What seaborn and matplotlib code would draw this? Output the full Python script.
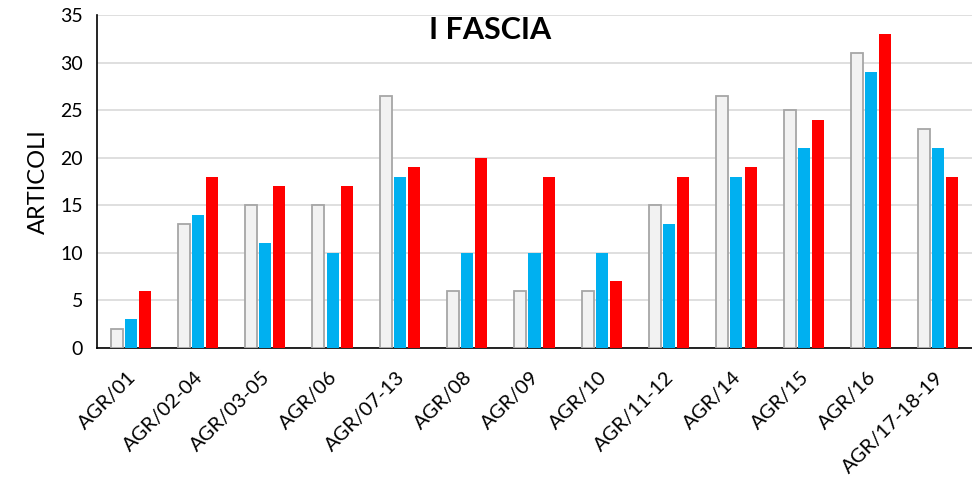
import matplotlib
matplotlib.use("Agg")
import matplotlib.pyplot as plt
import seaborn as sns
import pandas as pd
import numpy as np

categories = ["AGR/01", "AGR/02-04", "AGR/03-05", "AGR/06", "AGR/07-13", "AGR/08",
              "AGR/09", "AGR/10", "AGR/11-12", "AGR/14", "AGR/15", "AGR/16", "AGR/17-18-19"]
serie_grigia = [2, 13, 15, 15, 26.5, 6, 6, 6, 15, 26.5, 25, 31, 23]
serie_blu = [3, 14, 11, 10, 18, 10, 10, 10, 13, 18, 21, 29, 21]
serie_rossa = [6, 18, 17, 17, 19, 20, 18, 7, 18, 19, 24, 33, 18]
series_names = ["S1", "S2", "S3"]
colors = ["#F2F2F2", "#00B0F0", "#FF0000"]
title = "I FASCIA"
ylabel = "ARTICOLI"

df = pd.DataFrame({
    "cat": categories * 3,
    "serie": [series_names[0]] * 13 + [series_names[1]] * 13 + [series_names[2]] * 13,
    "val": serie_grigia + serie_blu + serie_rossa,
})

sns.set_style("white")
plt.rcParams["font.family"] = ["Lato", "DejaVu Sans"]
plt.rcParams["text.color"] = "black"
plt.rcParams["axes.labelcolor"] = "black"
plt.rcParams["xtick.color"] = "black"
plt.rcParams["ytick.color"] = "black"

fig = plt.figure(figsize=(9.72, 4.79), dpi=100)
ax = fig.add_axes([0.0998, 0.2735, 0.9002, 0.6952])

sns.barplot(data=df, x="cat", y="val", hue="serie", order=categories,
            hue_order=series_names, palette=colors, saturation=1,
            width=0.63, gap=0.15, legend=False, ax=ax, zorder=3)

for p in ax.patches:
    fc = p.get_facecolor()
    if fc[0] > 0.9 and fc[1] > 0.9:
        p.set_edgecolor("#A6A6A6")
        p.set_linewidth(1.3)
    else:
        p.set_linewidth(0)

ax.set_ylim(0, 35)
ax.set_xlim(-0.5, 12.5)
ax.set_yticks(range(0, 36, 5))
ax.yaxis.grid(True, color="#D9D9D9", lw=1.2, zorder=0)
ax.set_axisbelow(True)

for s in ["top", "right"]:
    ax.spines[s].set_visible(False)
for s in ["left", "bottom"]:
    ax.spines[s].set_color("black")
    ax.spines[s].set_linewidth(1.2)

ax.set_xticks(np.arange(len(categories)))
ax.set_xticklabels(categories, rotation=45, ha="right", rotation_mode="anchor", fontsize=14.5)
ax.set_xticks(np.arange(len(categories)) - 0.5, minor=True)
ax.tick_params(axis="x", which="major", length=0, pad=15)
ax.tick_params(axis="x", which="minor", length=6, width=1.2, color="black", direction="out")
ax.tick_params(axis="y", length=6, width=1.2, color="black", direction="out", labelsize=14, pad=4)
for lbl in ax.get_xticklabels():
    lbl.set_transform(lbl.get_transform() + matplotlib.transforms.ScaledTranslation(-2.7/72, 0, fig.dpi_scale_trans))

ax.set_xlabel("")
ax.set_ylabel(ylabel, fontsize=17, labelpad=8)

fig.text(0.504, 0.937, title, ha="center", va="center", fontsize=22, fontweight="bold")

fig.savefig("out.png", dpi=100)
